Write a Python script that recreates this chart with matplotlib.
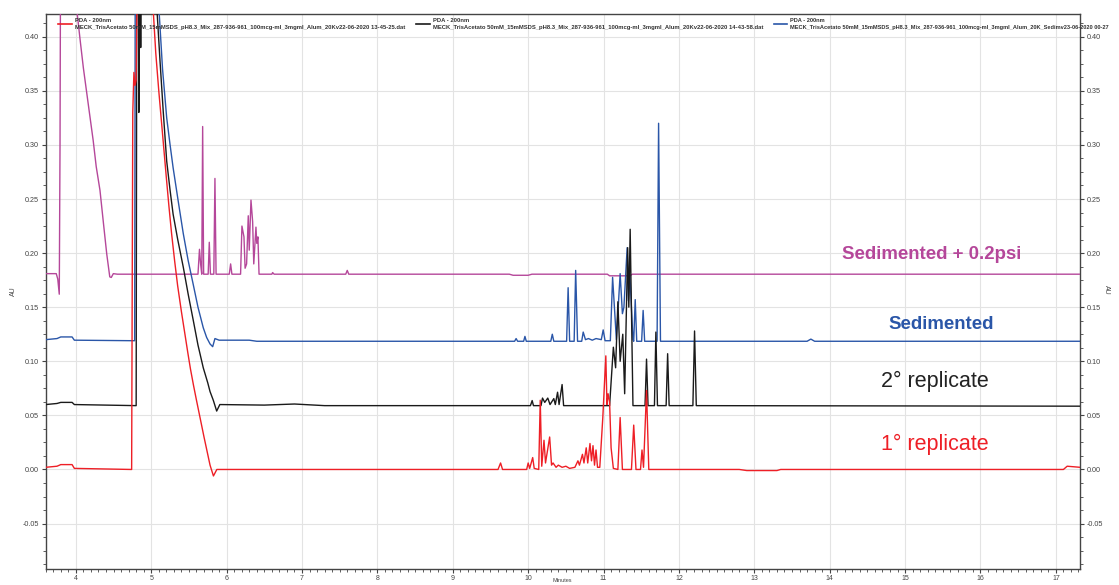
import matplotlib
matplotlib.use("Agg")
import matplotlib.pyplot as plt
from matplotlib.ticker import MultipleLocator, FormatStrFormatter
from matplotlib.lines import Line2D
from matplotlib.legend import Legend

plt.rcParams['font.family'] = ['Liberation Sans', 'DejaVu Sans']
plt.rcParams['axes.unicode_minus'] = False

# ---------------- data (time in minutes, absorbance in AU) ----------------
red_t = [3.60, 3.75, 3.80, 3.95, 3.98, 4.74, 4.755, 4.77, 4.785, 4.80, 4.83, 5.00,
         5.03, 5.06, 5.10, 5.15, 5.20, 5.235, 5.27, 5.31, 5.35, 5.40, 5.447, 5.485,
         5.52, 5.56, 5.60, 5.65, 5.70, 5.74, 5.78, 5.825, 5.87,
         9.60, 9.634, 9.66, 9.98, 10.00, 10.02, 10.06, 10.08, 10.14, 10.16, 10.18,
         10.21, 10.23, 10.285, 10.31, 10.33, 10.37, 10.40, 10.45, 10.50, 10.55, 10.62,
         10.66, 10.68, 10.72, 10.74, 10.77, 10.79, 10.82, 10.84, 10.86, 10.88, 10.90,
         10.92, 10.95, 10.99, 11.03, 11.045, 11.06, 11.08, 11.10, 11.13, 11.19, 11.22,
         11.25, 11.37, 11.40, 11.43, 11.49, 11.51, 11.53, 11.57, 11.60, 12.80, 12.90,
         13.30, 13.35, 17.10, 17.15, 17.32]
red_y = [0.002, 0.003, 0.0045, 0.0045, 0.001, 0.0, 0.33, 0.367, 0.355, 0.36, 0.55, 0.55,
         0.42, 0.385, 0.35, 0.31, 0.27, 0.243, 0.218, 0.193, 0.17, 0.146, 0.125, 0.108,
         0.093, 0.078, 0.064, 0.047, 0.03, 0.017, 0.004, -0.006, 0.0,
         0.0, 0.006, 0.0, 0.0, 0.006, 0.001, 0.011, 0.001, 0.0, 0.064, 0.003,
         0.027, 0.006, 0.030, 0.004, 0.006, 0.002, 0.004, 0.002, 0.003, 0.001, 0.002,
         0.008, 0.004, 0.014, 0.006, 0.020, 0.006, 0.024, 0.008, 0.022, 0.004, 0.018,
         0.002, 0.002, 0.048, 0.105, 0.06, 0.07, 0.062, 0.02, 0.001, 0.0, 0.048,
         0.0, 0.0, 0.041, 0.0, 0.0, 0.018, 0.002, 0.073, 0.0, 0.0, -0.001,
         -0.001, 0.0, 0.0, 0.003, 0.002]

black_t = [3.60, 3.75, 3.80, 3.95, 3.98, 4.80, 4.81, 4.83, 4.835, 4.845, 4.86, 4.875,
           5.07, 5.08, 5.116, 5.16, 5.205, 5.25, 5.29, 5.35, 5.425, 5.49, 5.557, 5.62,
           5.69, 5.75, 5.78, 5.823, 5.868, 5.91,
           6.50, 6.90, 7.30, 10.03, 10.053, 10.07, 10.17, 10.19, 10.22, 10.26, 10.29,
           10.34, 10.36, 10.39, 10.41, 10.45, 10.47, 11.08, 11.13, 11.16, 11.19, 11.22,
           11.255, 11.28, 11.32, 11.335, 11.353, 11.39, 11.55, 11.57, 11.59, 11.675,
           11.694, 11.715, 11.83, 11.85, 11.87, 12.185, 12.207, 12.23, 17.32]
black_y = [0.060, 0.061, 0.062, 0.062, 0.060, 0.059, 0.55, 0.55, 0.33, 0.55, 0.39, 0.55,
           0.55, 0.42, 0.378, 0.33, 0.285, 0.258, 0.236, 0.213, 0.187, 0.162, 0.138, 0.115,
           0.094, 0.08, 0.072, 0.064, 0.054, 0.060,
           0.0595, 0.0605, 0.059, 0.059, 0.0637, 0.059, 0.059, 0.066, 0.062, 0.066, 0.060,
           0.0655, 0.060, 0.0714, 0.060, 0.0785, 0.059, 0.059, 0.113, 0.094, 0.155, 0.10,
           0.125, 0.07, 0.205, 0.15, 0.222, 0.059, 0.059, 0.102, 0.059, 0.059,
           0.127, 0.059, 0.059, 0.107, 0.059, 0.059, 0.128, 0.059, 0.0585]

blue_t = [3.60, 3.75, 3.80, 3.95, 3.98, 4.78, 4.79, 5.10, 5.107, 5.15, 5.205, 5.25, 5.29,
          5.36, 5.425, 5.49, 5.557, 5.62, 5.69, 5.735, 5.78, 5.815, 5.845, 5.90, 6.30,
          6.40, 9.82, 9.84, 9.86, 9.94,
          9.957, 9.975, 10.30, 10.32, 10.34, 10.51, 10.53, 10.55, 10.61, 10.63, 10.655,
          10.71, 10.73, 10.76, 10.80, 10.85, 10.90, 10.97, 10.995, 11.02, 11.09, 11.12,
          11.17, 11.22, 11.25, 11.27, 11.313, 11.33, 11.35, 11.39, 11.40, 11.42, 11.44,
          11.505, 11.525, 11.545, 11.71, 11.73, 11.755, 13.70, 13.75, 13.80, 17.32]
blue_y = [0.120, 0.121, 0.1225, 0.1225, 0.1195, 0.119, 0.55, 0.55, 0.42, 0.37, 0.325, 0.30, 0.279,
          0.247, 0.218, 0.193, 0.171, 0.15, 0.131, 0.122, 0.116, 0.1135, 0.121, 0.1195, 0.1195,
          0.1185, 0.1185, 0.121, 0.1185, 0.1185,
          0.123, 0.1185, 0.1185, 0.125, 0.1185, 0.1185, 0.168, 0.1185, 0.1185, 0.184, 0.1185,
          0.1185, 0.127, 0.120, 0.121, 0.1195, 0.121, 0.120, 0.129, 0.119, 0.119, 0.1776,
          0.120, 0.181, 0.144, 0.15, 0.205, 0.156, 0.179, 0.120, 0.1185, 0.157, 0.1185,
          0.1185, 0.147, 0.1185, 0.1185, 0.320, 0.1185, 0.1185, 0.1205, 0.1185, 0.1185]

pink_t = [3.60, 3.74, 3.76, 3.78, 3.79, 3.80, 4.01, 4.02, 4.06, 4.10, 4.16, 4.23, 4.27,
          4.32, 4.37, 4.41, 4.45,
          4.47, 4.497, 4.55, 5.62, 5.64, 5.655, 5.67, 5.682, 5.695, 5.755, 5.77, 5.785,
          5.83, 5.845, 5.86, 6.035, 6.053, 6.07, 6.185, 6.203, 6.23, 6.245, 6.265, 6.287,
          6.30, 6.323, 6.345, 6.36, 6.389, 6.40, 6.415, 6.43, 6.60, 6.61, 6.63, 7.58,
          7.60, 7.62, 9.75, 9.80, 10.00, 10.05, 11.05, 11.08, 11.35, 11.38, 17.32]
pink_y = [0.181, 0.181, 0.176, 0.162, 0.30, 0.55, 0.55, 0.42, 0.395, 0.371, 0.34, 0.304, 0.28,
          0.258, 0.225, 0.199, 0.178,
          0.1775, 0.181, 0.1805, 0.1805, 0.2035, 0.19, 0.1805, 0.317, 0.1805, 0.1805, 0.21, 0.1805,
          0.1805, 0.269, 0.1805, 0.1805, 0.190, 0.1805, 0.1805, 0.225, 0.215, 0.186, 0.19, 0.2345,
          0.2027, 0.249, 0.229, 0.19, 0.224, 0.209, 0.215, 0.1805, 0.1805, 0.182, 0.1805, 0.1805,
          0.184, 0.1805, 0.1805, 0.1795, 0.1795, 0.1805, 0.1805, 0.179, 0.179, 0.1805, 0.1805]

legend_header = "PDA - 200nm"
legend_files = [
    "MECK_TrisAcetato 50mM_15mMSDS_pH8.3_Mix_287-936-961_100mcg-ml_3mgml_Alum_20Kv22-06-2020 13-45-25.dat",
    "MECK_TrisAcetato 50mM_15mMSDS_pH8.3_Mix_287-936-961_100mcg-ml_3mgml_Alum_20Kv22-06-2020 14-43-58.dat",
    "MECK_TrisAcetato 50mM_15mMSDS_pH8.3_Mix_287-936-961_100mcg-ml_3mgml_Alum_20K_Sedimv23-06-2020 00-27",
]
annotations = ["Sedimented + 0.2psi", "Sedimented", "2° replicate", "1° replicate"]

# colours
C_RED = "#ee1f26"
C_BLACK = "#1a1a1a"
C_BLUE = "#2a56a8"
C_PINK = "#b5479a"

W, H = 1119, 585
fig = plt.figure(figsize=(W / 100, H / 100), dpi=100)
ax = fig.add_axes([45.7 / W, 1 - 569 / H, (1080 - 45.7) / W, (569 - 14) / H])

lw = 1.0
ax.plot(pink_t, pink_y, color=C_PINK, lw=lw, zorder=3)
ax.plot(blue_t, blue_y, color=C_BLUE, lw=lw, zorder=4)
ax.plot(black_t, black_y, color=C_BLACK, lw=lw, zorder=5)
ax.plot(red_t, red_y, color=C_RED, lw=lw, zorder=6)

ax.set_xlim(3.60, 17.32)
ax.set_ylim(-0.092, 0.421)

ax.xaxis.set_major_locator(MultipleLocator(1))
ax.xaxis.set_minor_locator(MultipleLocator(0.1))
ax.yaxis.set_major_locator(MultipleLocator(0.05))
ax.yaxis.set_minor_locator(MultipleLocator(0.0125))
ax.yaxis.set_major_formatter(FormatStrFormatter('%.2f'))
ax.xaxis.set_major_formatter(FormatStrFormatter('%d'))

ax.grid(True, which='major', color='#e3e3e3', lw=0.8, zorder=0)
ax.set_axisbelow(True)

for s in ax.spines.values():
    s.set_color('#444444')
    s.set_linewidth(1.0)

ax.tick_params(axis='both', which='major', direction='out', length=3, width=0.8,
               colors='#444444', labelsize=5.2, pad=2)
ax.tick_params(axis='both', which='minor', direction='out', length=2, width=0.6,
               colors='#444444')
ax.tick_params(axis='y', which='both', right=True, labelright=True)
ax.tick_params(axis='x', which='major', pad=1.5, labelsize=5.0)

ax.set_ylabel("AU", fontsize=5, color='#444444', labelpad=4)
fig.text(562 / W, 1 - 580.5 / H, "Minutes", fontsize=4.0, color='#444444',
         ha='center', va='center')
fig.text(1106 / W, 1 - 290 / H, "AU", fontsize=5, color='#444444', rotation=270,
         ha='center', va='center')

# legends (one entry each, placed side by side along the top)
leg_x = [57, 415, 773]
leg_size = [4.2, 4.2, 4.05]
colors = [C_RED, C_BLACK, C_BLUE]
for i in range(3):
    h = Line2D([], [], color=colors[i], lw=1.2)
    leg = Legend(ax, [h], [legend_header + "\n" + legend_files[i]], loc='upper left',
                 bbox_to_anchor=(leg_x[i] / W, 1 - 17 / H),
                 bbox_transform=fig.transFigure, frameon=False,
                 prop={'size': leg_size[i], 'weight': 'bold'}, handlelength=2.3,
                 handletextpad=0.6, borderpad=0.2, borderaxespad=0)
    for t in leg.get_texts():
        t.set_color('#333333')
        t.set_linespacing(1.55)
    leg.set_zorder(10)
    ax.add_artist(leg)

# trace labels
ax.text(15.355, 0.1985, annotations[0], color=C_PINK, fontsize=13.4, fontweight='bold',
        ha='center', va='center', zorder=11)
ax.text(15.475, 0.134, annotations[1], color=C_BLUE, fontsize=13.4, fontweight='bold',
        ha='center', va='center', zorder=11)
ax.text(15.39, 0.0813, annotations[2], color='#222222', fontsize=15.5,
        ha='center', va='center', zorder=11)
ax.text(15.39, 0.0231, annotations[3], color=C_RED, fontsize=15.5,
        ha='center', va='center', zorder=11)

fig.savefig("out.png", dpi=100)
